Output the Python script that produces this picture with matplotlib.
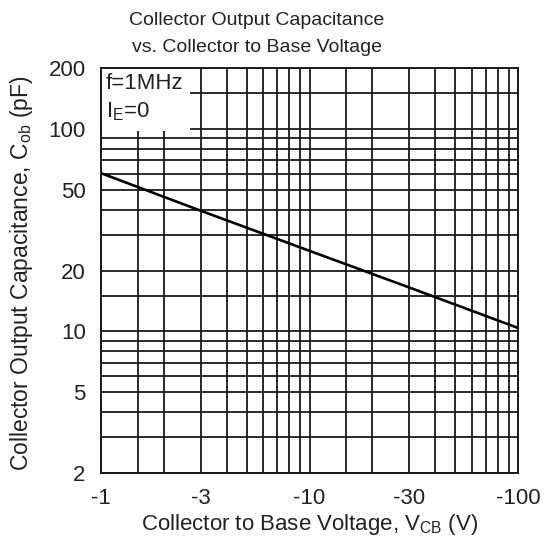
import matplotlib
matplotlib.use("Agg")
import matplotlib.pyplot as plt
from matplotlib.patches import Rectangle
from matplotlib.ticker import FixedLocator, NullFormatter

plt.rcParams['font.family'] = ['Liberation Sans', 'DejaVu Sans']
plt.rcParams['mathtext.fontset'] = 'custom'
plt.rcParams['mathtext.rm'] = 'Liberation Sans'
plt.rcParams['mathtext.it'] = 'Liberation Sans'

# data (|Vcb| in V, Cob in pF)
vcb = [1, 3, 10, 30, 100]
cob = [60.5, 39.5, 25.0, 16.5, 10.4]

x_major = [1, 3, 10, 30, 100]
x_labels = ["-1", "-3", "-10", "-30", "-100"]
x_minor = [1.5, 2, 4, 5, 6, 7, 8, 9, 15, 20, 40, 50, 60, 70, 80, 90]
y_major = [2, 5, 10, 20, 50, 100, 200]
y_labels = ["2", "5", "10", "20", "50", "100", "200"]
y_minor = [3, 4, 6, 7, 8, 9, 15, 30, 40, 60, 70, 80, 90, 150]

fig = plt.figure(figsize=(5.46, 5.44), dpi=100)
ax = fig.add_axes([0.185, 0.1305, 0.764, 0.7445])

ax.plot(vcb, cob, color='black', lw=1.9, zorder=3)
ax.set_xscale('log')
ax.set_yscale('log')
ax.set_xlim(1, 100)
ax.set_ylim(2, 200)

ax.xaxis.set_major_locator(FixedLocator(x_major))
ax.xaxis.set_minor_locator(FixedLocator(x_minor))
ax.yaxis.set_major_locator(FixedLocator(y_major))
ax.yaxis.set_minor_locator(FixedLocator(y_minor))
ax.set_xticklabels(x_labels)
ax.set_yticklabels(y_labels)
ax.xaxis.set_minor_formatter(NullFormatter())
ax.yaxis.set_minor_formatter(NullFormatter())
ax.tick_params(which='both', length=0, labelsize=16, colors='#222222')
ax.tick_params(axis='x', pad=11)
ax.tick_params(axis='y', pad=11)

ax.set_axisbelow(True)
ax.grid(which='both', color='#1a1a1a', lw=1.3)
for s in ax.spines.values():
    s.set_linewidth(1.4)
    s.set_color('#1a1a1a')

# note box in the corner
ax.add_patch(Rectangle((0, 0.845), 0.213, 0.155, transform=ax.transAxes,
                       facecolor='white', edgecolor='none', zorder=2))
ax.text(0.012, 0.962, "f=1MHz", transform=ax.transAxes, fontsize=16,
        va='center', ha='left', zorder=4, color='#222222')
ax.text(0.012, 0.893, "I$_{\\rm E}$=0", transform=ax.transAxes, fontsize=16,
        va='center', ha='left', zorder=4, color='#222222')

fig.text(0.47, 0.962, "Collector Output Capacitance", ha='center', va='center',
         fontsize=14, color='#222222')
fig.text(0.47, 0.913, "vs. Collector to Base Voltage", ha='center', va='center',
         fontsize=14, color='#222222')
fig.text(0.567, 0.036, "Collector to Base Voltage, V$_{\\rm CB}$ (V)", ha='center',
         va='center', fontsize=16, color='#222222')
fig.text(0.04, 0.497, "Collector Output Capacitance, C$_{\\rm ob}$ (pF)", ha='center',
         va='center', rotation=90, fontsize=16.5, color='#222222')

fig.savefig("out.png", dpi=100)
